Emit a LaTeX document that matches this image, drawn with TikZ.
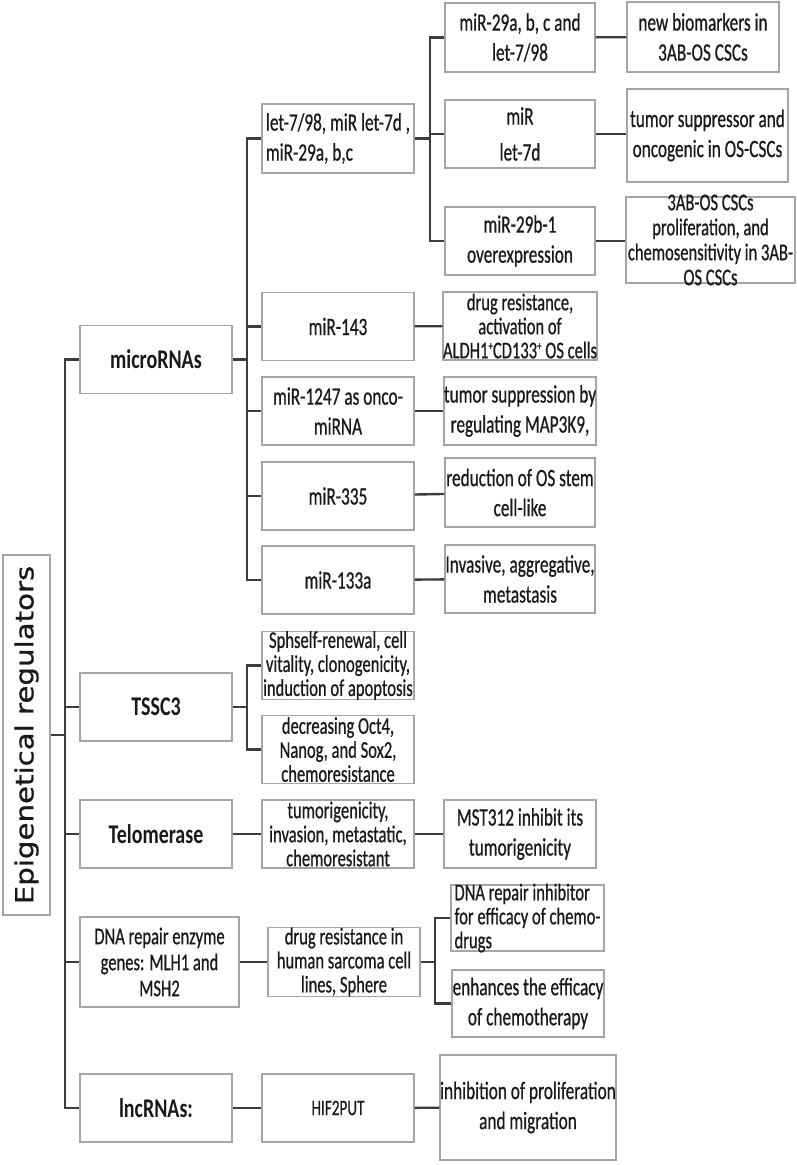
\documentclass[tikz,border=0pt]{standalone}
\usepackage{fontspec}
\setmainfont{Carlito}
\newfontfamily\boxfont[FakeStretch=0.69, FakeBold=0.6]{Carlito}
\newfontfamily\headfont[FakeStretch=0.74]{Carlito}
\newfontfamily\rootfont[FakeStretch=1.17, FakeBold=0.8]{DejaVu Sans}
\usetikzlibrary{positioning}

\definecolor{boxgray}{RGB}{165,165,165}
\definecolor{linegray}{RGB}{60,60,60}
\definecolor{txtgray}{RGB}{25,25,25}

\tikzset{
  box/.style={draw=boxgray, line width=1.4pt, text=txtgray, inner sep=0pt,
    minimum width=152pt, minimum height=68pt, align=center,
    font=\boxfont\fontsize{25}{30}\selectfont},
  tri/.style={font=\boxfont\fontsize{24}{24}\selectfont},
  quad/.style={font=\boxfont\fontsize{24}{25}\selectfont},
  head/.style={box, font=\headfont\bfseries\fontsize{27}{30}\selectfont},
  rootbox/.style={draw=boxgray, line width=1.4pt, text=txtgray, rotate=90,
    minimum width=360pt, minimum height=47pt, inner sep=0pt,
    font=\rootfont\fontsize{25}{28}\selectfont},
  conn/.style={draw=linegray, line width=2.4pt}
}

\newcommand{\plussup}{\smash{\raisebox{8pt}{\fontsize{13}{13}\selectfont+}}}

\begin{document}
\begin{tikzpicture}[x=1pt, y=-1pt]
  \useasboundingbox (0,0) rectangle (797,1165);

  % root and first level
  \node[rootbox] (root) at (26.5,735) {Epigenetical regulators};
  \node[head] (micro) at (156,359.5) {microRNAs};
  \node[head] (tssc) at (156,707) {TSSC3};
  \node[head] (telo) at (156,834) {Telomerase};
  \node[box, tri, minimum width=159pt, minimum height=90pt] (dna) at (159.5,962) {DNA repair enzyme\\[2pt]genes: MLH1 and\\[2pt]MSH2};
  \node[head] (lnc) at (156,1108) {lncRNAs:};

  % second level
  \node[box, align=left, minimum height=69pt] (let7) at (338,138.5) {let-7/98, miR let-7d ,\\miR-29a, b,c};
  \node[box] (m143) at (338,326.5) {miR-143};
  \node[box] (m1247) at (338,411) {miR-1247 as onco-\\miRNA};
  \node[box] (m335) at (338,496) {miR-335};
  \node[box] (m133) at (338,580) {miR-133a};
  \node[box, tri] (sph) at (338,665.5) {Sphself-renewal, cell\\vitality, clonogenicity,\\induction of apoptosis};
  \node[box, tri] (decr) at (338,749.5) {decreasing Oct4,\\Nanog, and Sox2,\\chemoresistance};
  \node[box, tri] (tumo) at (338,834) {tumorigenicity,\\invasion, metastatic,\\chemoresistant};
  \node[box, tri] (drugsar) at (344,962) {drug resistance in\\human sarcoma cell\\lines, Sphere};
  \node[box, font=\boxfont\fontsize{22}{26}\selectfont] (hif) at (338,1108) {HIF2PUT};

  % third level
  \node[box, minimum width=150pt, minimum height=69pt] (m29a) at (520,37.5) {miR-29a, b, c and\\let-7/98};
  \node[box, minimum width=150pt] (let7d) at (520,134) {miR\\[6pt]let-7d};
  \node[box, minimum width=150pt] (m29b) at (520,241) {miR-29b-1\\overexpression};
  \node[box, tri, minimum width=150pt, inner ysep=-3pt] (drugres) at (520,326) {drug resistance,\\activation of\\ALDH1\plussup CD133\plussup\ OS cells};
  \node[box, minimum width=150pt] (supp) at (520,411) {tumor suppression by\\regulating MAP3K9,};
  \node[box, minimum width=150pt, minimum height=69pt] (reduc) at (520,492.5) {reduction of OS stem\\cell-like};
  \node[box, minimum width=150pt] (invas) at (520,579) {Invasive, aggregative,\\metastasis};
  \node[box] (mst) at (520,834) {MST312 inhibit its\\tumorigenicity};
  \node[box, tri, align=left, minimum width=153pt, minimum height=66pt, inner ysep=-4pt] (inhib) at (527.5,918) {DNA repair inhibitor\\for efficacy of chemo-\\drugs};
  \node[box, minimum height=67pt] (enh) at (528,1003.5) {enhances the efficacy\\of chemotherapy};
  \node[box, minimum width=166pt, minimum height=105pt] (prolif) at (528,1107.5) {inhibition of proliferation\\and migration};

  % fourth level
  \node[box, minimum height=70pt] (bio) at (703,37) {new biomarkers in\\3AB-OS CSCs};
  \node[box, minimum width=161pt, minimum height=93pt] (onco) at (707.5,135.5) {tumor suppressor and\\oncogenic in OS-CSCs};
  \node[box, quad, minimum width=169pt, minimum height=86pt, inner ysep=-6pt] (oscsc) at (710.5,240) {3AB-OS CSCs\\proliferation, and\\chemosensitivity in 3AB-\\OS CSCs};

  % branch points
  \coordinate (trunk) at (65,735);
  \coordinate (mbr) at (247,359.5);
  \coordinate (lbr) at (430,138.5);
  \coordinate (tbr) at (247,707);
  \coordinate (dbr) at (435,962);

  % connectors
  \draw[conn] (root) -- (trunk);
  \foreach \n in {micro,tssc,telo,dna,lnc}
    \draw[conn] (\n.west) -| (trunk);
  \draw[conn] (micro) -- (mbr);
  \foreach \n in {let7,m143,m1247,m335,m133}
    \draw[conn] (\n.west) -| (mbr);
  \draw[conn] (let7) -- (lbr);
  \foreach \n in {m29a,let7d,m29b}
    \draw[conn] (\n.west) -| (lbr);
  \draw[conn] (tssc) -- (tbr);
  \foreach \n in {sph,decr}
    \draw[conn] (\n.west) -| (tbr);
  \draw[conn] (dna) -- (drugsar);
  \draw[conn] (drugsar) -- (dbr);
  \foreach \n in {inhib,enh}
    \draw[conn] (\n.west) -| (dbr);
  \draw[conn] (m29a) -- (bio);
  \draw[conn] (let7d) -- (let7d -| onco.west);
  \draw[conn] (m29b) -- (m29b -| oscsc.west);
  \draw[conn] (m143) -- (drugres);
  \draw[conn] (m1247) -- (supp);
  \draw[conn] (m335) -- (reduc);
  \draw[conn] (m133) -- (invas);
  \draw[conn] (telo) -- (tumo);
  \draw[conn] (tumo) -- (mst);
  \draw[conn] (lnc) -- (hif);
  \draw[conn] (hif) -- (prolif);
\end{tikzpicture}
\end{document}
